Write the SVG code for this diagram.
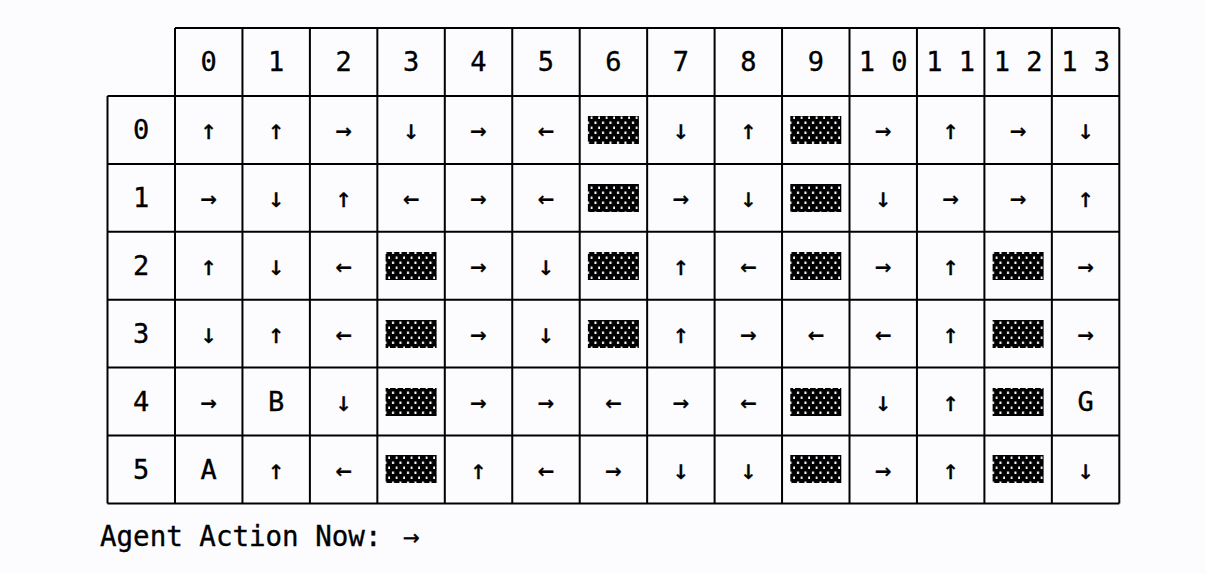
<svg xmlns="http://www.w3.org/2000/svg" width="1206" height="574" viewBox="0 0 1206 574">
<style>
.t{font-family:"DejaVu Sans Mono","Liberation Mono",monospace;font-size:27px;fill:#000;stroke:#000;stroke-width:0.35;text-anchor:middle}
.g{stroke:#000;stroke-width:2;fill:none}
</style>
<defs>
<pattern id="dots" patternUnits="userSpaceOnUse" x="0" y="0" width="7.5" height="10">
<rect width="7.5" height="10" fill="#000"/>
<rect x="2" y="1.5" width="2" height="2.5" fill="#fff"/>
<rect x="5.75" y="6.5" width="2" height="2.5" fill="#fff"/>
</pattern>
</defs>
<rect width="1206" height="574" fill="#fcfcff"/>
<g id="grid" class="g">
<path d="M175 28H1119.3M107.5 96H1119.3M107.5 163.9H1119.3M107.5 231.8H1119.3M107.5 299.7H1119.3M107.5 367.6H1119.3M107.5 435.5H1119.3M107.5 503.4H1119.3"/>
<path d="M107.5 96V503.4M175 28V503.4M242.45 28V503.4M309.9 28V503.4M377.35 28V503.4M444.8 28V503.4M512.25 28V503.4M579.7 28V503.4M647.15 28V503.4M714.6 28V503.4M782.05 28V503.4M849.5 28V503.4M916.95 28V503.4M984.4 28V503.4M1051.85 28V503.4M1119.3 28V503.4"/>
</g>
<g id="header" class="t">
<text x="208.7" y="71">0</text><text x="276.2" y="71">1</text><text x="343.6" y="71">2</text><text x="411.1" y="71">3</text><text x="478.5" y="71">4</text><text x="546" y="71">5</text><text x="613.4" y="71">6</text><text x="680.9" y="71">7</text><text x="748.3" y="71">8</text><text x="815.8" y="71">9</text><text x="883.2" y="71">1 0</text><text x="950.7" y="71">1 1</text><text x="1018.1" y="71">1 2</text><text x="1085.6" y="71">1 3</text>
<text x="141.25" y="139">0</text><text x="141.25" y="207">1</text><text x="141.25" y="275">2</text><text x="141.25" y="343">3</text><text x="141.25" y="411">4</text><text x="141.25" y="479">5</text>
</g>
<g id="row0" class="t">
<text x="208.7" y="139">↑</text><text x="276.2" y="139">↑</text><text x="343.6" y="139">→</text><text x="411.1" y="139">↓</text><text x="478.5" y="139">→</text><text x="546" y="139">←</text><text x="680.9" y="139">↓</text><text x="748.3" y="139">↑</text><text x="883.2" y="139">→</text><text x="950.7" y="139">↑</text><text x="1018.1" y="139">→</text><text x="1085.6" y="139">↓</text>
</g>
<g id="row1" class="t">
<text x="208.7" y="207">→</text><text x="276.2" y="207">↓</text><text x="343.6" y="207">↑</text><text x="411.1" y="207">←</text><text x="478.5" y="207">→</text><text x="546" y="207">←</text><text x="680.9" y="207">→</text><text x="748.3" y="207">↓</text><text x="883.2" y="207">↓</text><text x="950.7" y="207">→</text><text x="1018.1" y="207">→</text><text x="1085.6" y="207">↑</text>
</g>
<g id="row2" class="t">
<text x="208.7" y="275">↑</text><text x="276.2" y="275">↓</text><text x="343.6" y="275">←</text><text x="478.5" y="275">→</text><text x="546" y="275">↓</text><text x="680.9" y="275">↑</text><text x="748.3" y="275">←</text><text x="883.2" y="275">→</text><text x="950.7" y="275">↑</text><text x="1085.6" y="275">→</text>
</g>
<g id="row3" class="t">
<text x="208.7" y="343">↓</text><text x="276.2" y="343">↑</text><text x="343.6" y="343">←</text><text x="478.5" y="343">→</text><text x="546" y="343">↓</text><text x="680.9" y="343">↑</text><text x="748.3" y="343">→</text><text x="815.8" y="343">←</text><text x="883.2" y="343">←</text><text x="950.7" y="343">↑</text><text x="1085.6" y="343">→</text>
</g>
<g id="row4" class="t">
<text x="208.7" y="411">→</text><text x="276.2" y="411">B</text><text x="343.6" y="411">↓</text><text x="478.5" y="411">→</text><text x="546" y="411">→</text><text x="613.4" y="411">←</text><text x="680.9" y="411">→</text><text x="748.3" y="411">←</text><text x="883.2" y="411">↓</text><text x="950.7" y="411">↑</text><text x="1085.6" y="411">G</text>
</g>
<g id="row5" class="t">
<text x="208.7" y="479">A</text><text x="276.2" y="479">↑</text><text x="343.6" y="479">←</text><text x="478.5" y="479">↑</text><text x="546" y="479">←</text><text x="613.4" y="479">→</text><text x="680.9" y="479">↓</text><text x="748.3" y="479">↓</text><text x="883.2" y="479">→</text><text x="950.7" y="479">↑</text><text x="1085.6" y="479">↓</text>
</g>
<g id="walls" fill="url(#dots)">
<rect x="587.9" y="116" width="51" height="28"/><rect x="790.3" y="116" width="51" height="28"/>
<rect x="587.9" y="184" width="51" height="28"/><rect x="790.3" y="184" width="51" height="28"/>
<rect x="385.6" y="252" width="51" height="28"/><rect x="587.9" y="252" width="51" height="28"/><rect x="790.3" y="252" width="51" height="28"/><rect x="992.6" y="252" width="51" height="28"/>
<rect x="385.6" y="320" width="51" height="28"/><rect x="587.9" y="320" width="51" height="28"/><rect x="992.6" y="320" width="51" height="28"/>
<rect x="385.6" y="388" width="51" height="28"/><rect x="790.3" y="388" width="51" height="28"/><rect x="992.6" y="388" width="51" height="28"/>
<rect x="385.6" y="455" width="51" height="28"/><rect x="790.3" y="455" width="51" height="28"/><rect x="992.6" y="455" width="51" height="28"/>
</g>
<g id="status">
<text x="100" y="546" style="font-family:'DejaVu Sans Mono','Liberation Mono',monospace;font-size:27.5px;fill:#000;stroke:#000;stroke-width:0.35">Agent Action Now: <tspan dx="5">→</tspan></text>
</g>
</svg>
